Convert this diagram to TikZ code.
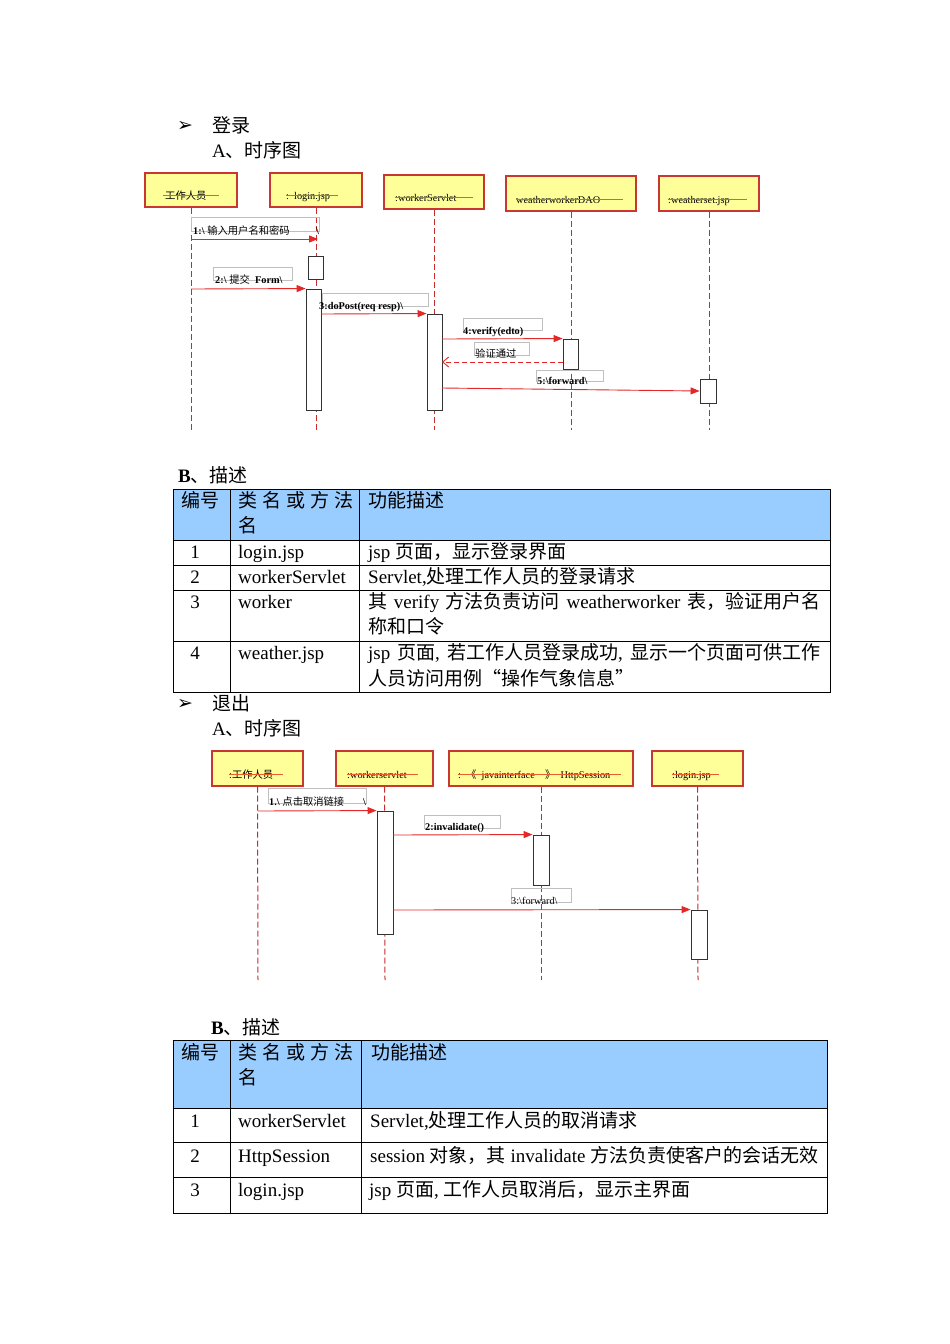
\documentclass[tikz,border=0pt]{standalone}
\usepackage{fontspec}
\setmainfont{Liberation Serif}
\newfontfamily\cjk{Noto Sans CJK SC}
\newfontfamily\dejavu{DejaVu Sans}
\usetikzlibrary{arrows.meta}
\newcommand\zh[1]{{\cjk #1}}
\newcommand\bs{\textbackslash}
\definecolor{objyellow}{RGB}{255,255,153}
\definecolor{objred}{RGB}{200,55,50}
\definecolor{strikeor}{RGB}{232,95,45}
\definecolor{lifered}{RGB}{200,45,45}
\definecolor{msgred}{RGB}{228,40,40}
\definecolor{hdrblue}{RGB}{153,204,255}
\begin{document}
\begin{tikzpicture}[x=1pt,y=-1pt,
  obj/.style={draw=objred, fill=objyellow, line width=1.3pt, inner sep=0},
  lbl/.style={inner sep=0, anchor=base west, font=\fontsize{10.3}{12}\selectfont},
  big/.style={inner sep=0, anchor=base west, font=\fontsize{19}{22}\selectfont},
  bigc/.style={inner sep=0, anchor=base, font=\fontsize{19}{22}\selectfont},
  bullet/.style={inner sep=0, anchor=base west, font=\dejavu\fontsize{19}{22}\selectfont},
  strike/.style={draw=strikeor, line width=1.2pt},
  life/.style={draw=lifered, line width=1pt, dash pattern=on 6pt off 3pt},
  msg/.style={draw=msgred, line width=0.9pt, -{Triangle[length=9pt,width=7pt]}},
  ret/.style={draw=msgred, line width=0.9pt, dash pattern=on 5pt off 3pt, -{Straight Barb[length=6pt,width=10pt]}},
  act/.style={draw=black!80, fill=white, line width=0.9pt, inner sep=0},
  gbox/.style={draw=black!25, line width=0.6pt, inner sep=0, anchor=north west},
  tabline/.style={draw=black, line width=1pt}
]
\useasboundingbox (0,0) rectangle (950,1344);
\fill[white] (0,0) rectangle (950,1344);

% ---------- headings section 1
\node[bullet] (b1) at (177,131) {➢};
\node[big] (h1) at (212,132) {\zh{登录}};
\node[big] (h2) at (212,157) {A\zh{、时序图}};

% ---------- diagram 1 objects
\node[obj, minimum width=92pt, minimum height=34pt] (o1) at (191,190) {};
\node[obj, minimum width=92pt, minimum height=34pt] (o2) at (316,190) {};
\node[obj, minimum width=100pt, minimum height=34pt] (o3) at (434,192) {};
\node[obj, minimum width=130pt, minimum height=35pt] (o4) at (571,193.5) {};
\node[obj, minimum width=100pt, minimum height=35pt] (o5) at (709,193.5) {};

\node[lbl] (t1) at (165,199) {\zh{工作人员}};
\node[lbl] (t2) at (286,199) {:\ \ login.jsp};
\node[lbl] (t3) at (395,201) {:workerServlet};
\node[lbl] (t4) at (516,203) {weatherworkerDAO};
\node[lbl] (t5) at (668,203) {:weatherset.jsp};
\draw[strike] ([xshift=-2pt,yshift=3.8pt]t1.base west) -- ([xshift=12pt,yshift=3.8pt]t1.base east);
\draw[strike] ([yshift=3.5pt]t2.base west) -- ([xshift=8pt,yshift=3.5pt]t2.base east);
\draw[strike] ([yshift=3.5pt]t3.base west) -- ([xshift=16pt,yshift=3.5pt]t3.base east);
\draw[strike] ([yshift=3.5pt]t4.base west) -- ([xshift=23pt,yshift=3.5pt]t4.base east);
\draw[strike] ([yshift=3.5pt]t5.base west) -- ([xshift=17pt,yshift=3.5pt]t5.base east);

% lifelines
\coordinate (e1) at (191,430);
\coordinate (e2) at (316,430);
\coordinate (e3) at (434,430);
\coordinate (e4) at (571,430);
\coordinate (e5) at (709,430);
\draw[life] (o1.south) -- (e1);
\draw[life] (o2.south) -- (e2);
\draw[life] (o3.south) -- (e3);
\draw[life] (o4.south) -- (e4);
\draw[life] (o5.south) -- (e5);

% label boxes
\node[gbox, minimum width=128pt, minimum height=14pt] (g1) at (191,217) {};
\node[gbox, minimum width=79pt, minimum height=13pt] (g2) at (213,267) {};
\node[gbox, minimum width=106pt, minimum height=13pt] (g3) at (322,293) {};
\node[gbox, minimum width=79pt, minimum height=12pt] (g4) at (463,318) {};
\node[gbox, minimum width=55pt, minimum height=13pt] (g5) at (474,342) {};
\node[gbox, minimum width=67pt, minimum height=11pt] (g6) at (536,370) {};

% activations
\node[act, minimum width=15pt, minimum height=23pt] (a1) at (316,267.5) {};
\node[act, minimum width=15pt, minimum height=121pt] (a2) at (313.5,349.5) {};
\node[act, minimum width=15pt, minimum height=96pt] (a3) at (434.5,362) {};
\node[act, minimum width=15pt, minimum height=30pt] (a4) at (570.5,354) {};
\node[act, minimum width=16pt, minimum height=24pt] (a5) at (708,391) {};

% messages
\coordinate (m1a) at (191,239);
\coordinate (m1b) at (318,239);
\coordinate (m2a) at (191,289);
\coordinate (m3a) at (321,314);
\coordinate (m4a) at (442,339);
\coordinate (r1a) at (563,362);
\coordinate (r1b) at (442,362);
\coordinate (m5a) at (442,388);
\draw[msg] (m1a) -- (m1b);
\draw[msg] (m2a) -- (a2.north west);
\draw[msg] (m3a) -- (a3.north west);
\draw[msg] (m4a) -- (a4.north west);
\draw[ret] (r1a) -- (r1b);
\draw[msg] (m5a) -- (a5.west);

\node[lbl] (l1) at (193,234) {\textbf{1:\bs}\ \zh{输入用户名和密码}};
\node[lbl] (l1b) at (316,234) {\textbf{\bs}};
\node[lbl] (l2) at (215,283) {\textbf{2:\bs}\ \zh{提交}\ \ \textbf{Form\bs}};
\node[lbl] (l3) at (319,309) {\textbf{3:doPost(req resp)\bs}};
\node[lbl] (l4) at (463,334) {\textbf{4:verify(edto)}};
\node[lbl] (l5) at (475,357) {\zh{验证通过}};
\node[lbl] (l6) at (537,384) {\textbf{5:\bs forward\bs}};

% ---------- table 1
\node[big] (bt1) at (178,482) {\textbf{B}\zh{、描述}};
\fill[hdrblue] (173,489) rectangle (830,540);
\draw[tabline] (173,489) rectangle (830,692);
\draw[tabline] (173,540) -- (830,540);
\draw[tabline] (173,565) -- (830,565);
\draw[tabline] (173,590) -- (830,590);
\draw[tabline] (173,641) -- (830,641);
\draw[tabline] (230,489) -- (230,692);
\draw[tabline] (359,489) -- (359,692);

\node[big] (th1) at (181,507) {\zh{编号}};
\node[big] (th2) at (238,507) {\zh{类\hspace{5pt}名\hspace{5pt}或\hspace{5pt}方\hspace{5pt}法}};
\node[big] (th2b) at (238,532) {\zh{名}};
\node[big] (th3) at (368,507) {\zh{功能描述}};

\node[bigc] (n1) at (195,558) {1};
\node[big] (c1) at (238,558) {login.jsp};
\node[big] (d1) at (368,558) {jsp \zh{页面，显示登录界面}};
\node[bigc] (n2) at (195,583) {2};
\node[big] (c2) at (238,583) {workerServlet};
\node[big] (d2) at (368,583) {Servlet,\zh{处理工作人员的登录请求}};
\node[bigc] (n3) at (195,608) {3};
\node[big] (c3) at (238,608) {worker};
\node[big] (d3) at (368,608) {\makebox[452pt][s]{\zh{其} verify \zh{方法负责访问} weatherworker \zh{表，验证用户名}}};
\node[big] (d3b) at (368,633) {\zh{称和口令}};
\node[bigc] (n4) at (195,659) {4};
\node[big] (c4) at (238,659) {weather.jsp};
\node[big] (d4) at (368,659) {\makebox[452pt][s]{jsp \zh{页面}, \zh{若工作人员登录成功}, \zh{显示一个页面可供工作}}};
\node[big] (d4b) at (368,685) {\zh{人员访问用例“操作气象信息”}};

% ---------- headings section 2
\node[bullet] (b2) at (177,709) {➢};
\node[big] (h3) at (212,710) {\zh{退出}};
\node[big] (h4) at (212,735) {A\zh{、时序图}};

% ---------- diagram 2 objects
\node[obj, minimum width=91pt, minimum height=35pt] (p1) at (257.5,768.5) {};
\node[obj, minimum width=97pt, minimum height=35pt] (p2) at (384.5,768.5) {};
\node[obj, minimum width=184pt, minimum height=35pt] (p3) at (541,768.5) {};
\node[obj, minimum width=91pt, minimum height=35pt] (p4) at (697.5,768.5) {};

\node[lbl] (s1) at (229,778) {:\zh{工作人员}};
\node[lbl] (s2) at (347,778) {:workerservlet};
\node[lbl] (s3) at (458,778) {:\ \ \zh{《}\ \ javainterface\ \ \ \ \zh{》}\ \ HttpSession};
\node[lbl] (s4) at (672,778) {:login.jsp};
\draw[strike] ([yshift=3.8pt]s1.base west) -- ([xshift=10pt,yshift=3.8pt]s1.base east);
\draw[strike] ([yshift=3.5pt]s2.base west) -- ([xshift=11pt,yshift=3.5pt]s2.base east);
\draw[strike] ([yshift=3.5pt]s3.base west) -- ([xshift=10pt,yshift=3.5pt]s3.base east);
\draw[strike] ([yshift=3.5pt]s4.base west) -- ([xshift=8pt,yshift=3.5pt]s4.base east);

\coordinate (f1) at (258,980);
\coordinate (f2) at (385,980);
\coordinate (f3) at (541,980);
\coordinate (f4) at (698,980);
\draw[life] (p1.south) -- (f1);
\draw[life] (p2.south) -- (f2);
\draw[life] (p3.south) -- (f3);
\draw[life] (p4.south) -- (f4);

\node[gbox, minimum width=98pt, minimum height=15pt] (g7) at (268,788) {};
\node[gbox, minimum width=76pt, minimum height=13pt] (g8) at (424,815) {};
\node[gbox, minimum width=60pt, minimum height=14pt] (g9) at (511,888) {};

\node[act, minimum width=16pt, minimum height=123pt] (a6) at (385,872.5) {};
\node[act, minimum width=16pt, minimum height=50pt] (a7) at (541,860) {};
\node[act, minimum width=16pt, minimum height=49pt] (a8) at (699,934.5) {};

\coordinate (k1a) at (258,811);
\coordinate (k2a) at (393,835);
\coordinate (k3a) at (393,910);
\draw[msg] (k1a) -- (a6.north west);
\draw[msg] (k2a) -- (a7.north west);
\draw[msg] (k3a) -- (a8.north west);

\node[lbl] (q1) at (269,805) {\textbf{1.\bs}\ \zh{点击取消链接}};
\node[lbl] (q1b) at (363,805) {\textbf{\bs}};
\node[lbl] (q2) at (425,830) {\textbf{2:invalidate()}};
\node[lbl] (q3) at (511,904) {3:\bs forward\bs};

% ---------- table 2
\node[big] (bt2) at (211,1034) {\textbf{B}\zh{、描述}};
\fill[hdrblue] (173,1040) rectangle (827,1108);
\draw[tabline] (173,1040) rectangle (827,1213);
\draw[tabline] (173,1108) -- (827,1108);
\draw[tabline] (173,1142) -- (827,1142);
\draw[tabline] (173,1177) -- (827,1177);
\draw[tabline] (230,1040) -- (230,1213);
\draw[tabline] (361,1040) -- (361,1213);

\node[big] (uh1) at (181,1059) {\zh{编号}};
\node[big] (uh2) at (238,1059) {\zh{类\hspace{5pt}名\hspace{5pt}或\hspace{5pt}方\hspace{5pt}法}};
\node[big] (uh2b) at (238,1084) {\zh{名}};
\node[big] (uh3) at (371,1059) {\zh{功能描述}};

\node[bigc] (v1) at (195,1127) {1};
\node[big] (w1) at (238,1127) {workerServlet};
\node[big] (x1) at (370,1127) {Servlet,\zh{处理工作人员的取消请求}};
\node[bigc] (v2) at (195,1162) {2};
\node[big] (w2) at (238,1162) {HttpSession};
\node[big] (x2) at (370,1162) {\makebox[448pt][s]{session \zh{对象，其} invalidate \zh{方法负责使客户的会话无效}}};
\node[bigc] (v3) at (195,1196) {3};
\node[big] (w3) at (238,1196) {login.jsp};
\node[big] (x3) at (369,1196) {jsp \zh{页面}, \zh{工作人员取消后，显示主界面}};
\end{tikzpicture}
\end{document}
